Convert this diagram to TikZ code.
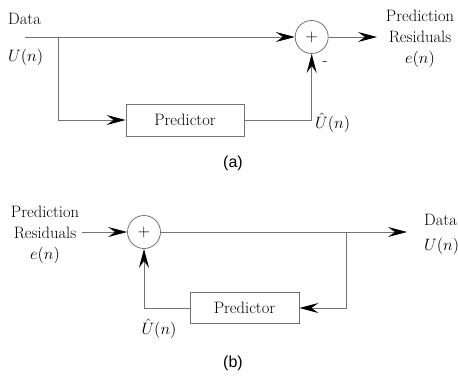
\RequirePackage{fix-cm}
\documentclass[tikz,border=0pt]{standalone}
\usepackage{fontspec}
\newfontfamily\capfont{Liberation Sans}
\usetikzlibrary{arrows.meta,positioning,calc}
\definecolor{wire}{RGB}{115,115,115}
\tikzset{
  blk/.style={draw=wire,line width=0.8pt,minimum height=32pt,inner sep=2pt},
  sumnode/.style={draw=wire,line width=0.8pt,circle,minimum size=33pt,inner sep=0pt},
  arr/.style={-{Stealth[length=19pt,width=10pt,inset=7pt,color=black]},wire,line width=0.8pt},
  wireln/.style={wire,line width=0.8pt},
  lbl/.style={align=center,inner sep=0pt,font=\fontsize{16.5}{21}\selectfont},
  subcap/.style={font=\capfont\fontsize{16}{19}\selectfont,inner sep=0pt}
}
\begin{document}
\begin{tikzpicture}[x=1pt,y=-1pt,font=\fontsize{16.5}{21}\selectfont]
\useasboundingbox (0,0) rectangle (458,376);
% (a) prediction
\node[sumnode] (sa) at (311.7,37) {$+$};
\node[blk,minimum width=118pt] (pa) at (185,120) {Predictor};
\coordinate (ina) at (25,37);
\coordinate (bra) at (58,37);
\coordinate (outa) at (377,37);
\draw[wireln] (ina) -- (bra);
\draw[arr] (bra) -- (sa);
\draw[arr] (bra) |- (pa);
\draw[arr] (pa.east) -| (sa.south);
\draw[arr] (sa) -- (outa);
\node[lbl,anchor=west] (dina) at (8,19) {Data};
\node[lbl,anchor=west] (una) at (8,57) {$U(n)$};
\node[lbl] (resa) at (420,39) {Prediction\\Residuals\\$e(n)$};
\node[lbl] (minus) at (325,64) {-};
\node[lbl,anchor=west] (hata) at (315,123) {$\hat{U}(n)$};
\node[subcap] (capa) at (233,163) {(a)};
% (b) reconstruction
\node[sumnode] (sb) at (144,232) {$+$};
\node[blk,minimum width=109pt,minimum height=31pt] (pb) at (244.5,308) {Predictor};
\coordinate (inb) at (82,232);
\coordinate (brb) at (346,232);
\coordinate (outb) at (407,232);
\draw[arr] (inb) -- (sb);
\draw[wireln] (sb) -- (brb);
\draw[arr] (brb) -- (outb);
\draw[arr] (brb) |- (pb);
\draw[arr] (pb.west) -| (sb.south);
\node[lbl] (resb) at (45,235) {Prediction\\Residuals\\$e(n)$};
\node[lbl,anchor=west] (dinb) at (424,220) {Data};
\node[lbl,anchor=west] (unb) at (424,246) {$U(n)$};
\node[lbl,anchor=north] (hatb) at (159,319) {$\hat{U}(n)$};
\node[subcap] (capb) at (233,363) {(b)};
\end{tikzpicture}
\end{document}
